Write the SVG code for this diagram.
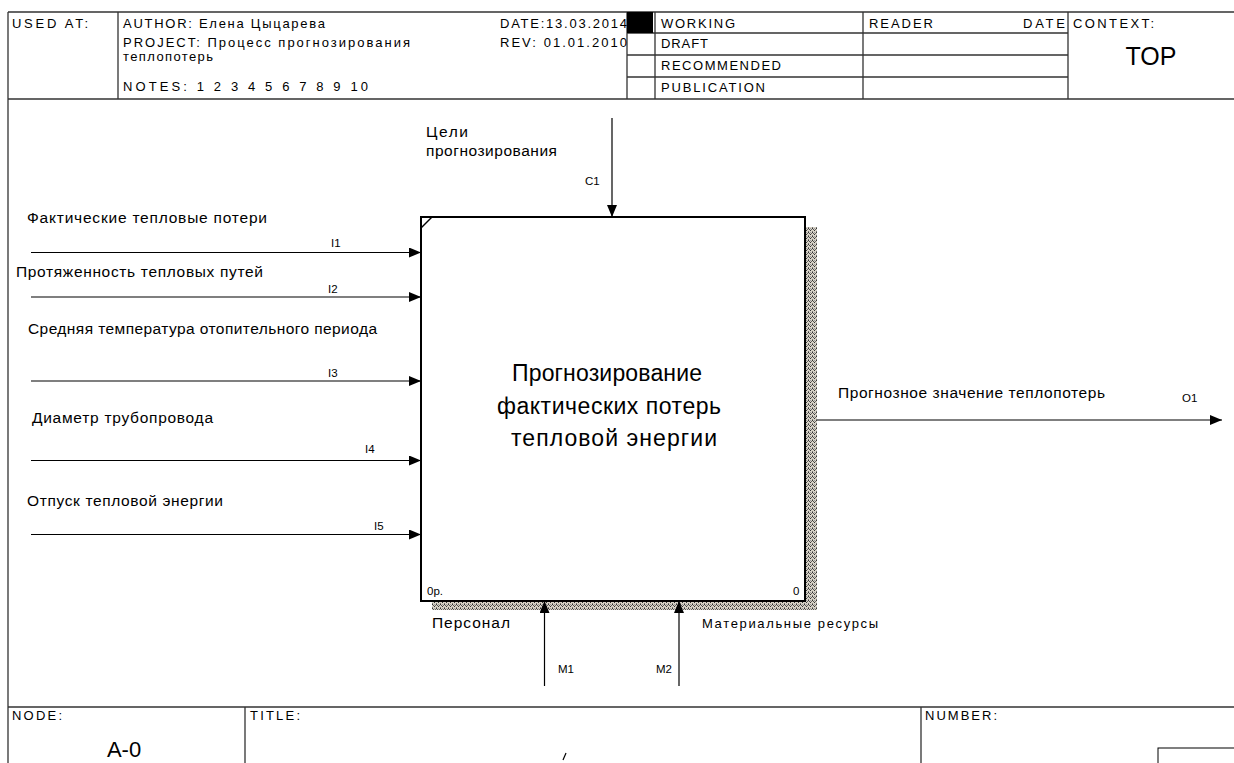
<svg xmlns="http://www.w3.org/2000/svg" width="1234" height="763" viewBox="0 0 1234 763">
<style>
text{font-family:"Liberation Sans",Arial,sans-serif;fill:#000}
.h{font-size:13px}
.lb{font-size:15.5px}
.sm{font-size:11.5px}
.mr{font-size:13px}
.main{font-size:23px}
.fr{stroke:#333;stroke-width:1.3;fill:none}
.arr{stroke:#000;stroke-width:1.2;fill:none}
</style>
<defs>
<pattern id="hatch" width="4" height="4" patternUnits="userSpaceOnUse">
<rect width="4" height="4" fill="#d8d2c6"/>
<rect x="0" y="0" width="1" height="1" fill="#333"/>
<rect x="1" y="1" width="1" height="1" fill="#555"/>
<rect x="2" y="2" width="1" height="1" fill="#333"/>
<rect x="3" y="1" width="1" height="1" fill="#666"/>
<rect x="0" y="3" width="1" height="1" fill="#777"/>
<rect x="2" y="0" width="1" height="1" fill="#999"/>
</pattern>
<marker id="ah" markerWidth="12" markerHeight="10" refX="12" refY="5" orient="auto" markerUnits="userSpaceOnUse">
<path d="M0,0 L12,5 L0,10 Z" fill="#000"/>
</marker>
</defs>
<rect width="1234" height="763" fill="#fff"/>

<g id="frame">
<path class="fr" d="M8,12 H1234 M8,12 V763 M8,99 H1234 M118,12 V99 M627,12 V99 M655,12 V99 M863,12 V99 M1068,12 V99 M627,33 H1068 M627,55 H1068 M627,77 H1068"/>
<rect x="627" y="12" width="26" height="21" fill="#000"/>
<path class="fr" d="M8,707 H1234 M245,707 V763 M921,707 V763"/>
<rect x="1158" y="748" width="80" height="20" fill="none" stroke="#000" stroke-width="1"/>
<text class="h" x="12" y="28" textLength="76">USED AT:</text>
<text class="h" x="123" y="28" textLength="202">AUTHOR: Елена Цыцарева</text>
<text class="h" x="123" y="47" textLength="287">PROJECT: Процесс прогнозирования</text>
<text class="h" x="123" y="61" textLength="90" font-size="12">теплопотерь</text>
<text class="h" x="123" y="91" textLength="245">NOTES: 1 2 3 4 5 6 7 8 9 10</text>
<text class="h" x="500" y="28" textLength="127">DATE:13.03.2014</text>
<text class="h" x="500" y="47" textLength="127">REV:  01.01.2010</text>
<text class="h" x="661" y="28" textLength="74">WORKING</text>
<text class="h" x="661" y="48" textLength="47">DRAFT</text>
<text class="h" x="661" y="70" textLength="120">RECOMMENDED</text>
<text class="h" x="661" y="92" textLength="104">PUBLICATION</text>
<text class="h" x="869" y="28" textLength="64">READER</text>
<text class="h" x="1023" y="28" textLength="42">DATE</text>
<text class="h" x="1073" y="28" textLength="81">CONTEXT:</text>
<text x="1151" y="65" font-size="25" text-anchor="middle">TOP</text>
<text class="h" x="12" y="720" textLength="50">NODE:</text>
<text class="h" x="250" y="720" textLength="50">TITLE:</text>
<text class="h" x="925" y="720" textLength="72">NUMBER:</text>
<text x="124" y="757" font-size="22" text-anchor="middle">A-0</text>
<path d="M566,753 L563,760" stroke="#000" stroke-width="1.2"/>
</g>

<g id="node-A0">
<rect x="806" y="227" width="11" height="383" fill="url(#hatch)"/>
<rect x="432" y="602" width="385" height="8" fill="url(#hatch)"/>
<rect x="421" y="217" width="384" height="384" fill="none" stroke="#000" stroke-width="2"/>
<line x1="421" y1="228" x2="432" y2="217" stroke="#000" stroke-width="1.5"/>
<text class="main" x="512" y="381" textLength="190">Прогнозирование</text>
<text class="main" x="497" y="414" textLength="224">фактических потерь</text>
<text class="main" x="511" y="446" textLength="206">тепловой энергии</text>
<text class="sm" x="427" y="595">0р.</text>
<text class="sm" x="793" y="595">0</text>
</g>

<g id="connectors">
<line class="arr" x1="612" y1="118" x2="612" y2="217" marker-end="url(#ah)"/>
<line class="arr" x1="31" y1="252.5" x2="421" y2="252.5" marker-end="url(#ah)"/>
<line class="arr" x1="31" y1="297" x2="421" y2="297" marker-end="url(#ah)"/>
<line class="arr" x1="31" y1="381" x2="421" y2="381" marker-end="url(#ah)"/>
<line class="arr" x1="31" y1="460.5" x2="421" y2="460.5" marker-end="url(#ah)"/>
<line class="arr" x1="31" y1="534.5" x2="421" y2="534.5" marker-end="url(#ah)"/>
<line class="arr" x1="817" y1="420" x2="1222" y2="420" marker-end="url(#ah)"/>
<line class="arr" x1="544.5" y1="686" x2="544.5" y2="601" marker-end="url(#ah)"/>
<line class="arr" x1="679" y1="686" x2="679" y2="601" marker-end="url(#ah)"/>
<text class="lb" x="426" y="137" textLength="42">Цели</text>
<text class="lb" x="426" y="156" textLength="131">прогнозирования</text>
<text class="sm" x="585" y="185">C1</text>
<text class="lb" x="27" y="223" textLength="240">Фактические тепловые потери</text>
<text class="sm" x="331" y="247">I1</text>
<text class="lb" x="16" y="277" textLength="247">Протяженность тепловых путей</text>
<text class="sm" x="328" y="293">I2</text>
<text class="lb" x="28" y="334" textLength="349">Средняя температура отопительного периода</text>
<text class="sm" x="328" y="377">I3</text>
<text class="lb" x="32" y="423" textLength="181">Диаметр трубопровода</text>
<text class="sm" x="365" y="453">I4</text>
<text class="lb" x="27" y="506" textLength="196">Отпуск тепловой энергии</text>
<text class="sm" x="374" y="530">I5</text>
<text class="lb" x="838" y="398" textLength="267">Прогнозное значение теплопотерь</text>
<text class="sm" x="1182" y="402">O1</text>
<text class="lb" x="432" y="628" textLength="78">Персонал</text>
<text class="mr" x="702" y="628" textLength="176">Материальные ресурсы</text>
<text class="sm" x="558" y="673">M1</text>
<text class="sm" x="656" y="673">M2</text>
</g>
</svg>
